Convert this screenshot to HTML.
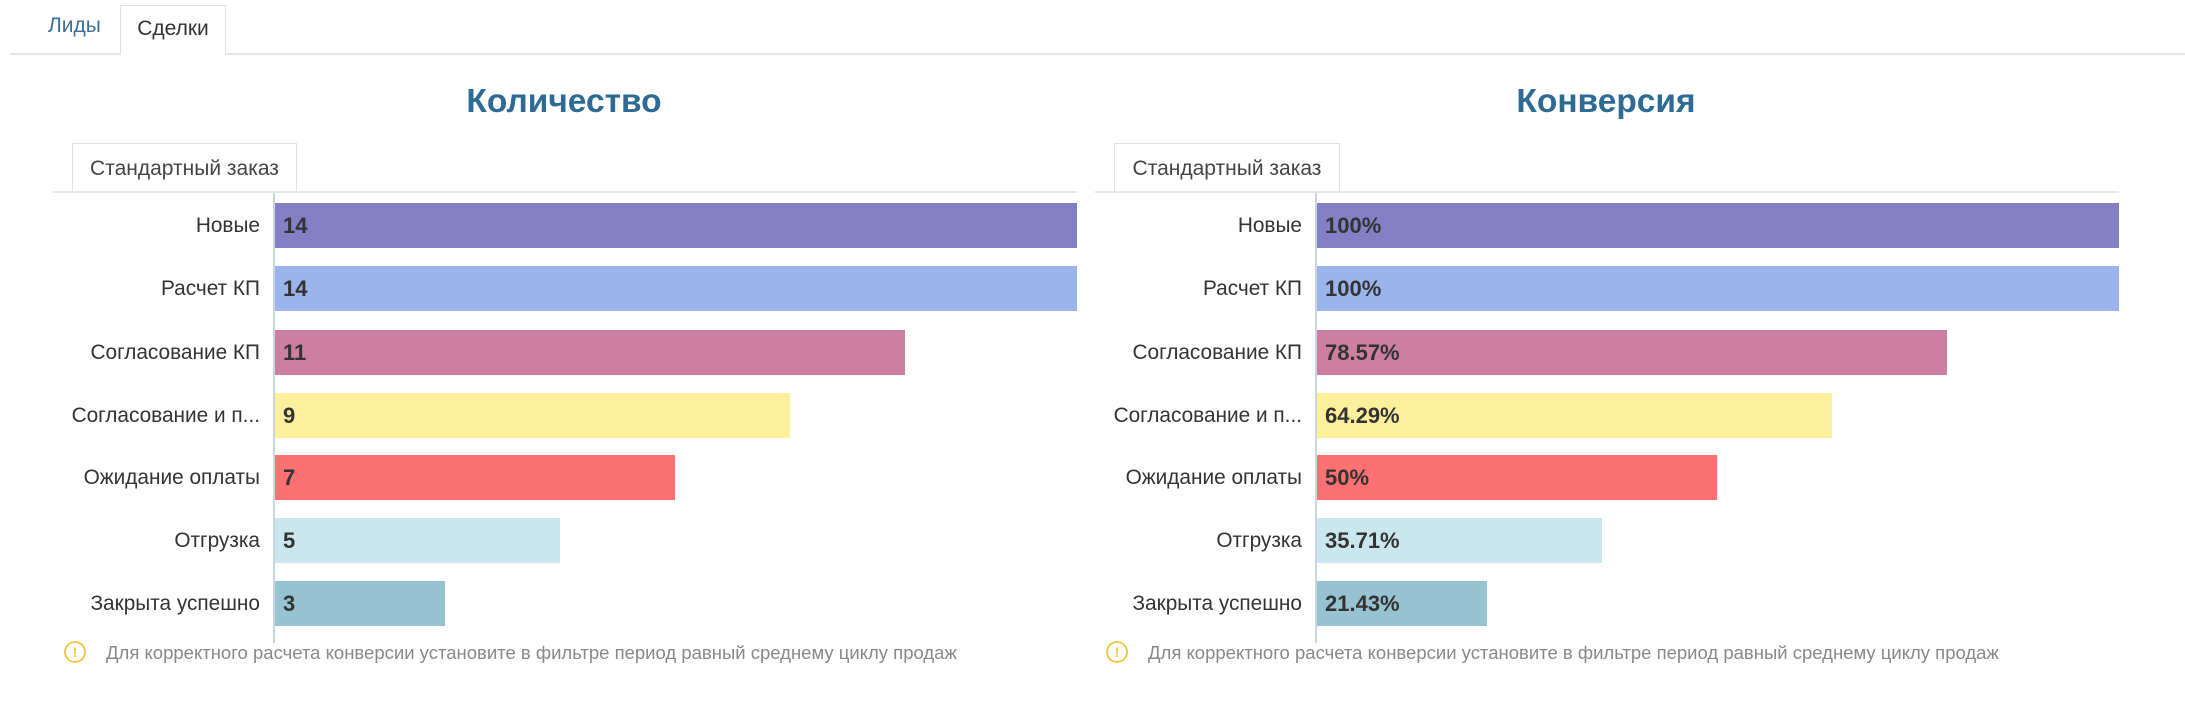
<!DOCTYPE html>
<html><head><meta charset="utf-8"><style>
*{margin:0;padding:0;box-sizing:border-box}
body{width:2185px;height:728px;background:#fff;font-family:"Liberation Sans","DejaVu Sans",sans-serif;position:relative;overflow:hidden;color:#333}
.a{position:absolute}
.tabline{left:10px;top:53px;width:2175px;height:2px;background:#e6e6e6}
.t1{left:48px;top:14px;font-size:21px;color:#3a6f9a}
.t2{left:120px;top:5px;width:106px;height:50px;border:1px solid #e0e0e0;border-bottom:none;background:#fff;font-size:21px;color:#333;padding-top:11px;text-align:center}
.title{font-size:33.5px;font-weight:bold;color:#2d6a94;width:500px;text-align:center;top:83px}
.sub{height:50px;border:1px solid #e0e0e0;border-bottom:none;background:#fff;font-size:21px;color:#444;text-align:center;padding-top:13px;top:143px}
.hl{height:2px;background:#e6e6e6;top:191px}
.ax{width:2px;background:#c9d6e0;top:193px;height:450px}
.lbl{font-size:20.8px;color:#333;text-align:right;width:260px;line-height:45px}
.bar{height:45px;font-size:22px;font-weight:bold;color:#333;line-height:45px;padding-left:8px}
.ic{width:22px;height:22px;border:2px solid #f2c94c;border-radius:50%;color:#f2c94c;font-size:14px;font-weight:bold;text-align:center;line-height:18px}
.note{font-size:18.5px;color:#888}
</style></head><body>
<div class="a tabline"></div>
<div class="a t1">Лиды</div>
<div class="a t2">Сделки</div>

<div class="a title" style="left:314px">Количество</div>
<div class="a sub" style="left:72px;width:225px">Стандартный заказ</div>
<div class="a hl" style="left:53px;width:1024px"></div>
<div class="a ax" style="left:273px"></div>

<div class="a title" style="left:1356px">Конверсия</div>
<div class="a sub" style="left:1114px;width:226px">Стандартный заказ</div>
<div class="a hl" style="left:1095px;width:1024px"></div>
<div class="a ax" style="left:1315px"></div>

<div class="a lbl" style="left:0;top:203px">Новые</div>
<div class="a lbl" style="left:0;top:266px">Расчет КП</div>
<div class="a lbl" style="left:0;top:330px">Согласование КП</div>
<div class="a lbl" style="left:0;top:393px">Согласование и п...</div>
<div class="a lbl" style="left:0;top:455px">Ожидание оплаты</div>
<div class="a lbl" style="left:0;top:518px">Отгрузка</div>
<div class="a lbl" style="left:0;top:581px">Закрыта успешно</div>
<div class="a bar" style="left:275px;top:203px;width:802px;background:#8480c5">14</div>
<div class="a bar" style="left:275px;top:266px;width:802px;background:#9bb5ec">14</div>
<div class="a bar" style="left:275px;top:330px;width:630px;background:#cd7fa1">11</div>
<div class="a bar" style="left:275px;top:393px;width:515px;background:#fdef9b">9</div>
<div class="a bar" style="left:275px;top:455px;width:400px;background:#fe7173">7</div>
<div class="a bar" style="left:275px;top:518px;width:285px;background:#cbe7ee">5</div>
<div class="a bar" style="left:275px;top:581px;width:170px;background:#96c2d2">3</div>
<div class="a ic" style="left:64px;top:641px">!</div>
<div class="a note" style="left:106px;top:642px">Для корректного расчета конверсии установите в фильтре период равный среднему циклу продаж</div>

<div class="a lbl" style="left:1042px;top:203px">Новые</div>
<div class="a lbl" style="left:1042px;top:266px">Расчет КП</div>
<div class="a lbl" style="left:1042px;top:330px">Согласование КП</div>
<div class="a lbl" style="left:1042px;top:393px">Согласование и п...</div>
<div class="a lbl" style="left:1042px;top:455px">Ожидание оплаты</div>
<div class="a lbl" style="left:1042px;top:518px">Отгрузка</div>
<div class="a lbl" style="left:1042px;top:581px">Закрыта успешно</div>
<div class="a bar" style="left:1317px;top:203px;width:802px;background:#8480c5">100%</div>
<div class="a bar" style="left:1317px;top:266px;width:802px;background:#9bb5ec">100%</div>
<div class="a bar" style="left:1317px;top:330px;width:630px;background:#cd7fa1">78.57%</div>
<div class="a bar" style="left:1317px;top:393px;width:515px;background:#fdef9b">64.29%</div>
<div class="a bar" style="left:1317px;top:455px;width:400px;background:#fe7173">50%</div>
<div class="a bar" style="left:1317px;top:518px;width:285px;background:#cbe7ee">35.71%</div>
<div class="a bar" style="left:1317px;top:581px;width:170px;background:#96c2d2">21.43%</div>
<div class="a ic" style="left:1106px;top:641px">!</div>
<div class="a note" style="left:1148px;top:642px">Для корректного расчета конверсии установите в фильтре период равный среднему циклу продаж</div>
</body></html>
